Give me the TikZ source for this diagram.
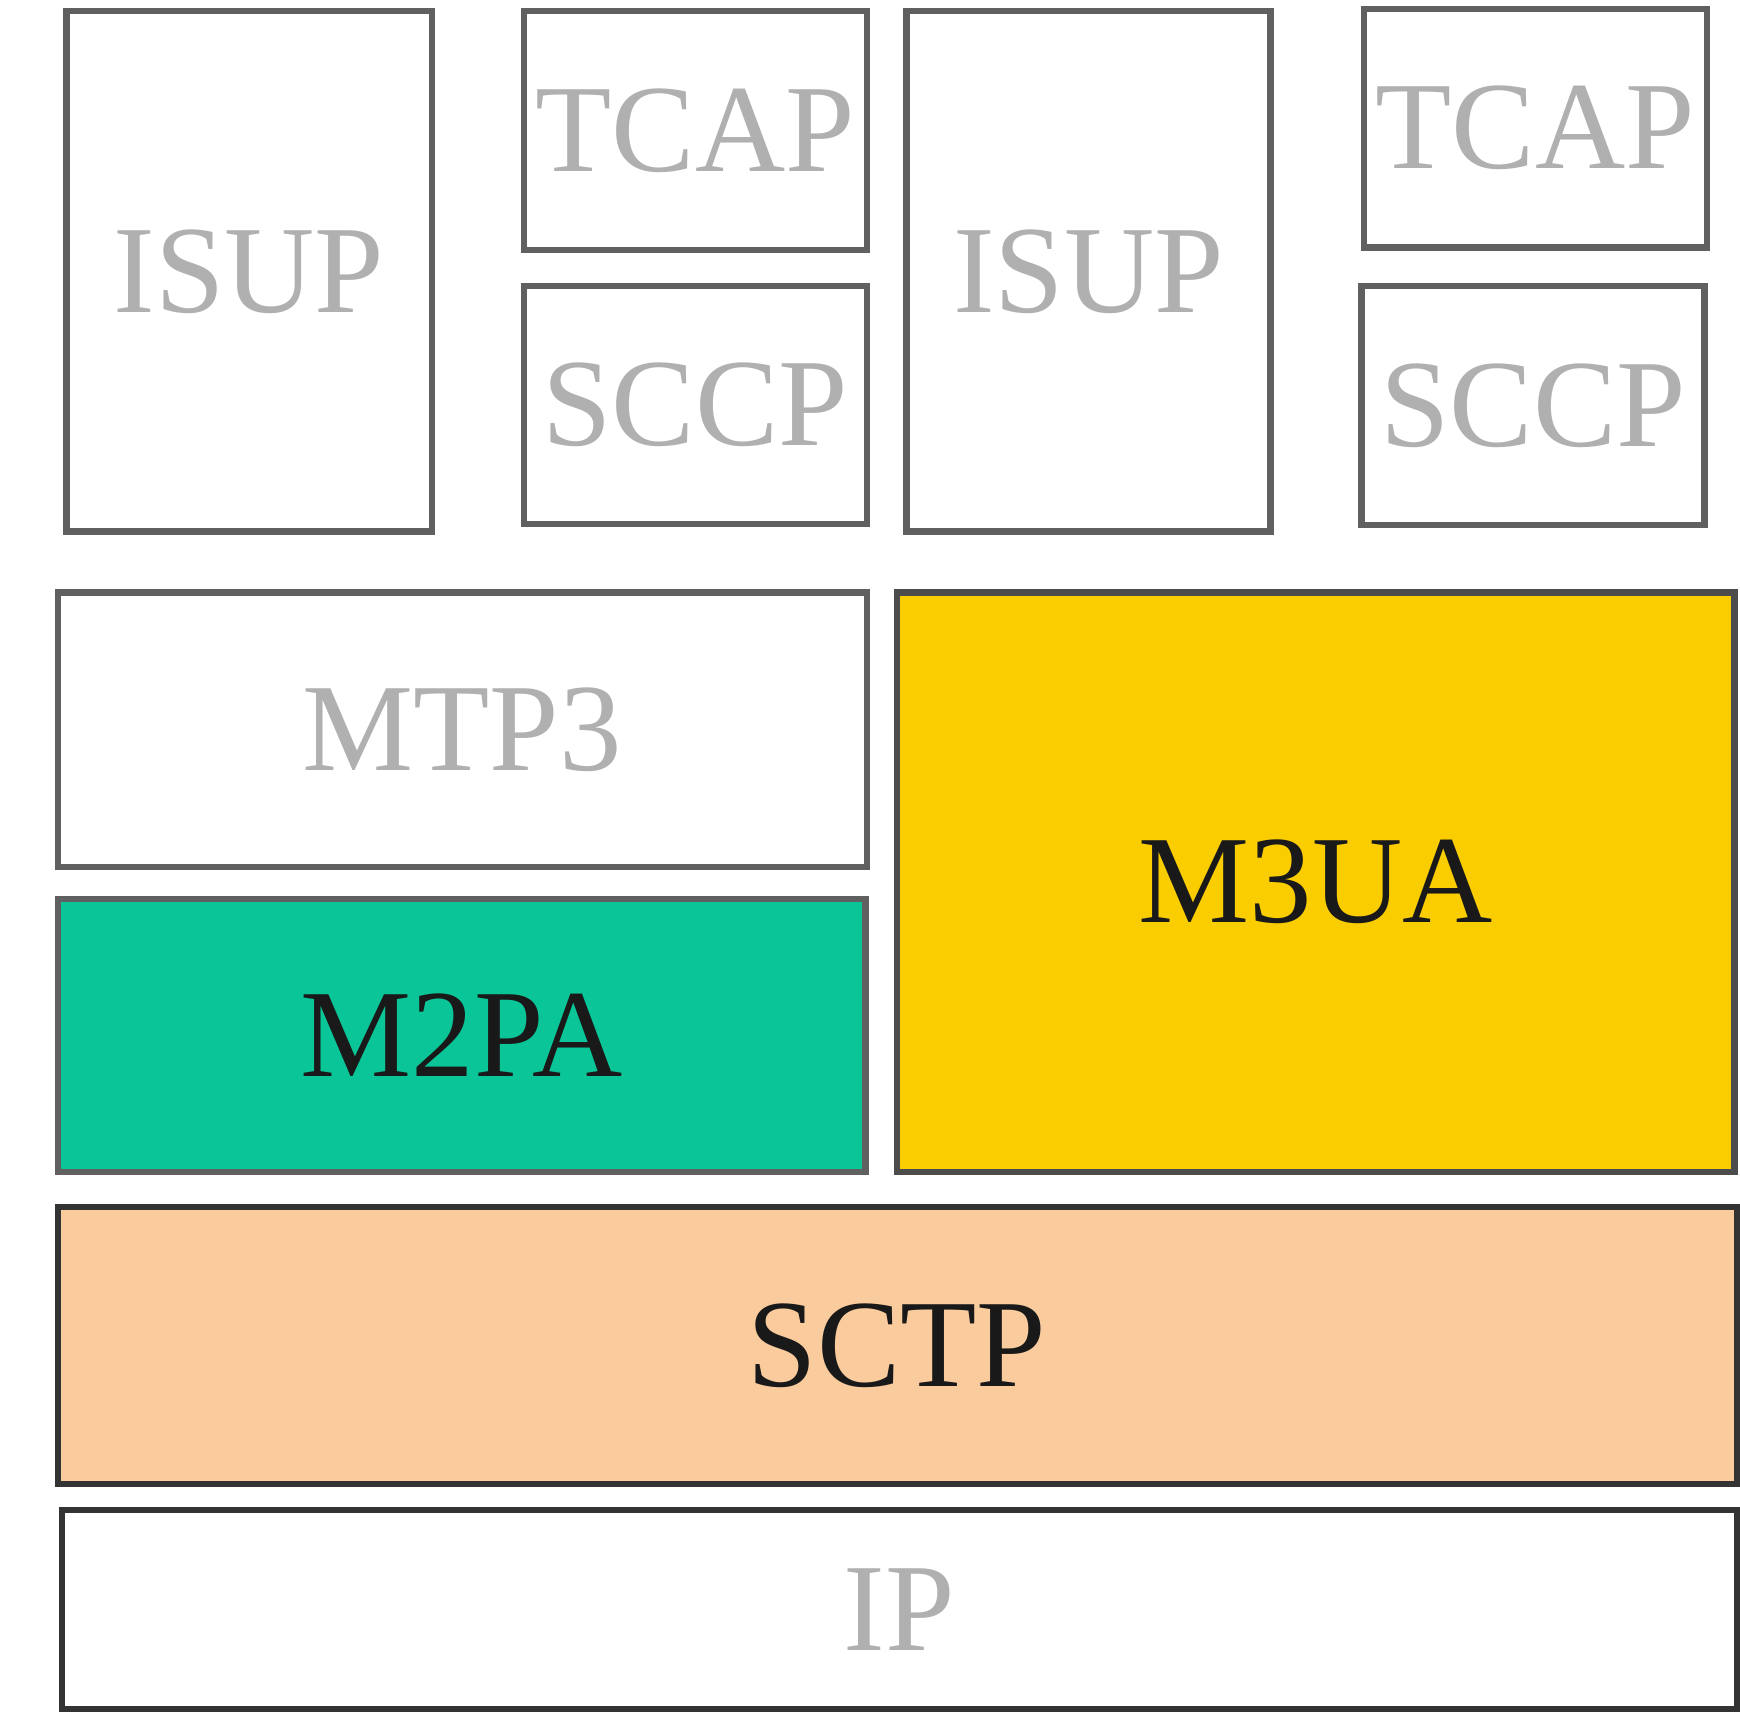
\documentclass[tikz,border=0pt]{standalone}
\usepackage{fontspec}
\setmainfont{Liberation Serif}
\definecolor{tgray}{HTML}{B0B0B0}
\definecolor{bgray}{HTML}{606060}
\definecolor{teal2}{HTML}{0AC597}
\definecolor{gold2}{HTML}{F9CD00}
\definecolor{peach}{HTML}{FACC9D}
\begin{document}
\begin{tikzpicture}[x=0.01cm,y=-0.01cm,
  layer/.style={draw=bgray,line width=1.6pt,font=\fontsize{32}{36}\selectfont,text=tgray},
  dark/.style={text=black!90}]
\useasboundingbox (0,0) rectangle (1568,1557);
\def\bx#1#2#3#4#5#6#7{\draw[layer,#6] (#2,#3) rectangle (#4,#5) node[midway,#7] (#1) {\strut #1};}
\draw[layer] (60,10) rectangle (389,479) node[midway] (isupa) {ISUP};
\draw[layer] (472,10) rectangle (781,225) node[midway] (tcapa) {TCAP};
\draw[layer] (472,258) rectangle (781,472) node[midway] (sccpa) {SCCP};
\draw[layer] (817,10) rectangle (1145,479) node[midway] (isupb) {ISUP};
\draw[layer] (1229,8) rectangle (1538,223) node[midway] (tcapb) {TCAP};
\draw[layer] (1227,258) rectangle (1536,473) node[midway] (sccpb) {SCCP};
\draw[layer] (52,534) rectangle (781,781) node[midway] (mtp3) {MTP3};
\draw[layer,fill=teal2] (52,810) rectangle (780,1056) node[midway,dark] (m2pa) {M2PA};
\draw[layer,fill=gold2,draw=black!70] (808,534) rectangle (1563,1056) node[midway,dark] (m3ua) {M3UA};
\draw[layer,fill=peach,draw=black!80] (52,1088) rectangle (1565,1337) node[midway,dark] (sctp) {SCTP};
\draw[layer,draw=black!80] (56,1361) rectangle (1565,1540) node[midway] (ip) {IP};
\end{tikzpicture}
\end{document}
